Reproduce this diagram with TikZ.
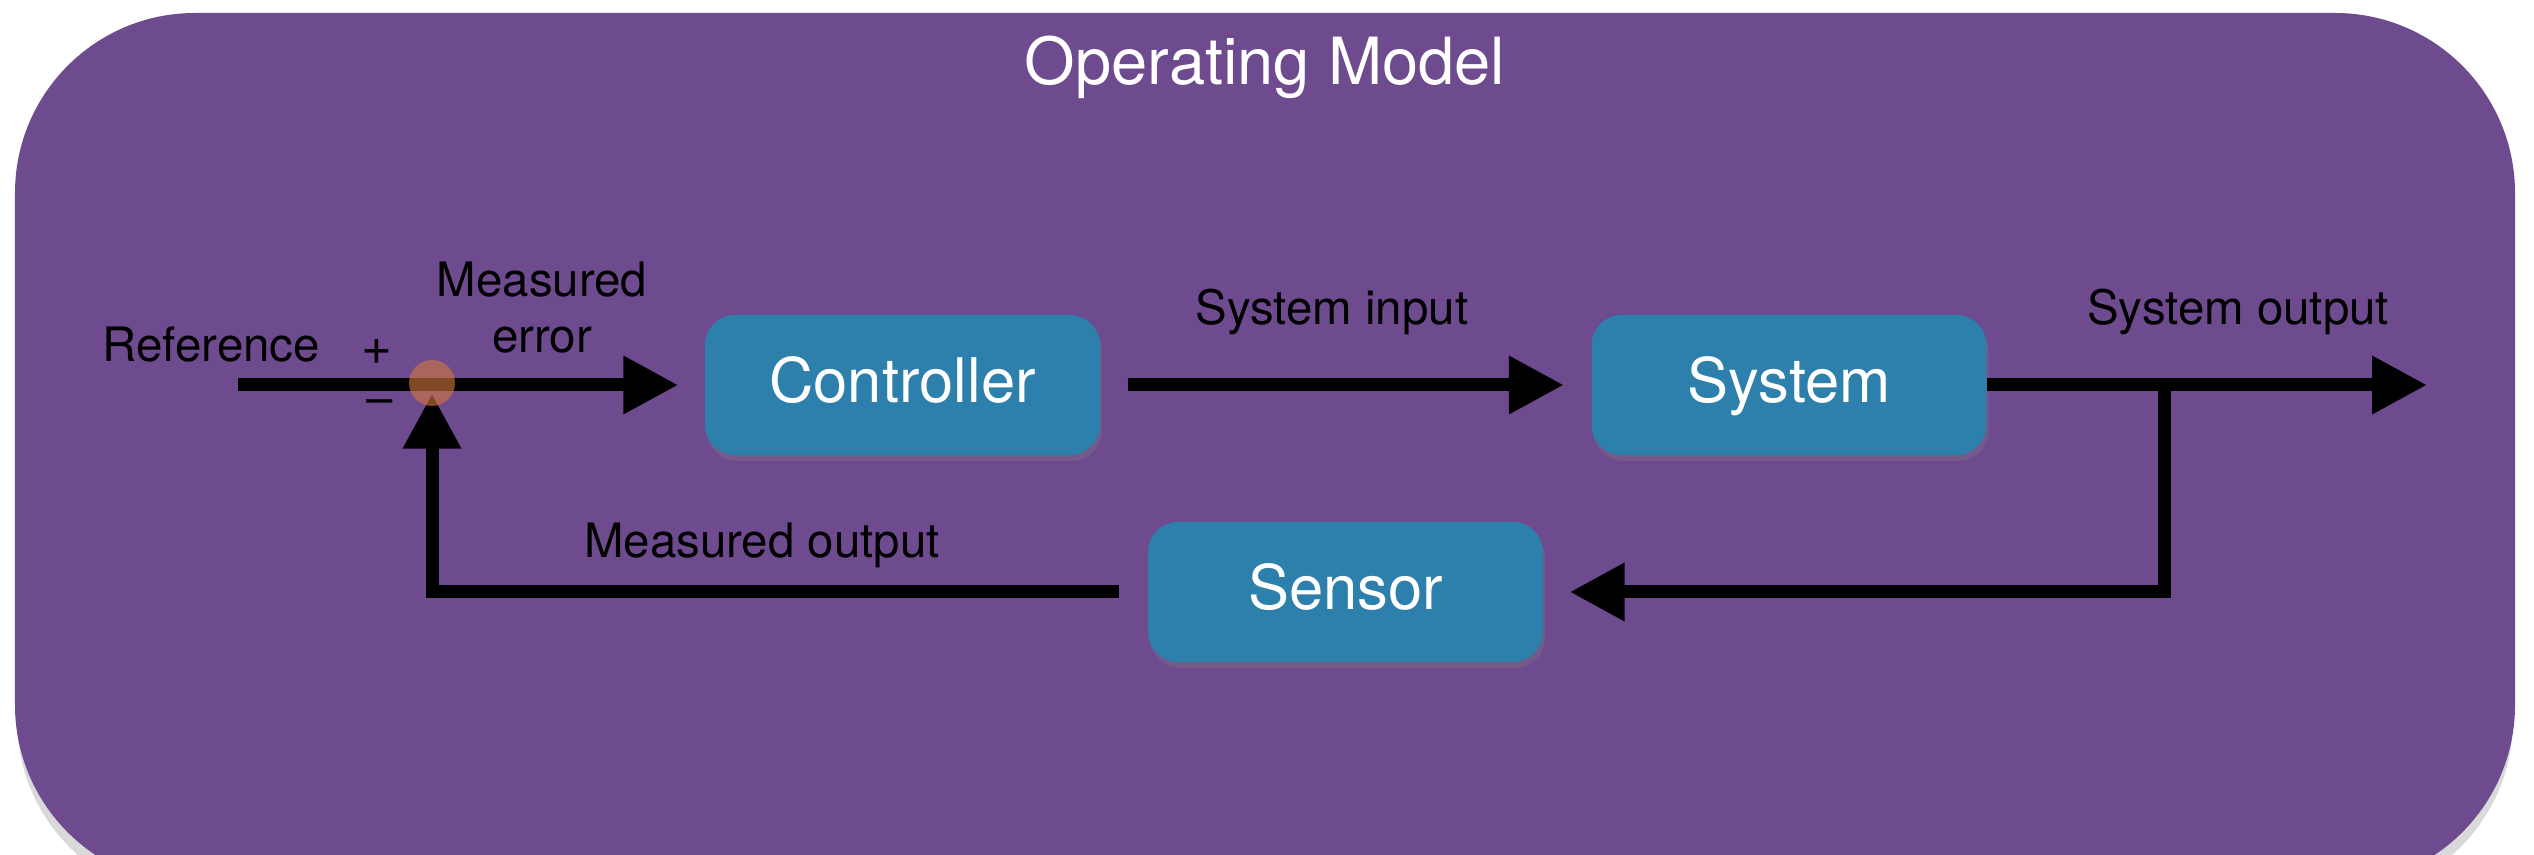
\documentclass[tikz,border=0pt]{standalone}
\usepackage{fontspec}
\setmainfont{TeX Gyre Heros}
\usetikzlibrary{arrows.meta,shadows}
\definecolor{bgpurple}{RGB}{110,74,142}
\definecolor{boxblue}{RGB}{45,127,172}
\definecolor{sumorange}{RGB}{214,120,60}
\begin{document}
\begin{tikzpicture}[x=1cm,y=1cm,
  block/.style={draw=none, fill=boxblue, rounded corners=0.3cm,
    minimum width=3.95cm, minimum height=1.4cm, text=white,
    font=\fontsize{17.5}{20}\selectfont, text height=0.97em, text depth=0pt,
    drop shadow={shadow xshift=0.02cm, shadow yshift=-0.06cm, opacity=0.3}},
  flow/.style={line width=0.13cm, -{Triangle[length=0.55cm,width=0.55cm]}},
  lbl/.style={font=\fontsize{13.5}{16}\selectfont, text=black, inner sep=0pt},
  title/.style={font=\fontsize{18.5}{22}\selectfont, text=white, inner sep=0pt},
]
\useasboundingbox (0,0) rectangle (25.34,8.55);
\begin{scope}
  \clip (0,0) rectangle (25.34,8.55);
  \fill[black, opacity=0.15, rounded corners=1.8cm] (0.17,-0.45) rectangle (25.13,8.30);
  \fill[bgpurple, rounded corners=1.8cm] (0.15,-0.30) rectangle (25.15,8.42);
\end{scope}

\node[title, anchor=base] (ttl) at (12.65,7.70) {Operating Model};

% blocks
\node[block] (ctrl) at (9.025,4.70) {Controller};
\node[block] (sys) at (17.89,4.70) {System};
\node[block] (sensor) at (13.455,2.63) {Sensor};

% summing junction (placeholder node)
\node[circle, minimum size=0.46cm, inner sep=0pt] (sum) at (4.32,4.72) {};

\coordinate (refin) at (2.38,4.70);
\coordinate (br) at (21.64,4.70);
\coordinate (out) at (24.27,4.70);

% connectors
\draw[flow] (refin) -- ([xshift=-0.26cm]ctrl.west);
\draw[flow] ([xshift=0.27cm]ctrl.east) -- ([xshift=-0.27cm]sys.west);
\draw[flow] (sys.east) -- (out);
\draw[flow] (br) |- ([xshift=0.26cm]sensor.east);
\draw[flow, shorten >=-0.13cm] ([xshift=-0.28cm]sensor.west) -| (sum);

% summing junction fill on top
\fill[sumorange, opacity=0.6] (sum.center) circle (0.23cm);

% labels
\node[lbl, anchor=base west] (reflbl) at (1.02,4.93) {Reference};
\node[lbl, font=\fontsize{15}{16}\selectfont] (plus) at (3.77,5.03) {+};
\node[lbl] (minus) at (3.80,4.48) {\textendash};
\node[lbl, anchor=base] (err1) at (5.42,5.58) {Measured};
\node[lbl, anchor=base] (err2) at (5.42,5.02) {error};
\node[lbl, anchor=base] (sysin) at (13.32,5.30) {System input};
\node[lbl, anchor=base] (sysout) at (22.38,5.30) {System output};
\node[lbl, anchor=base] (measout) at (7.62,2.97) {Measured output};
\end{tikzpicture}
\end{document}
